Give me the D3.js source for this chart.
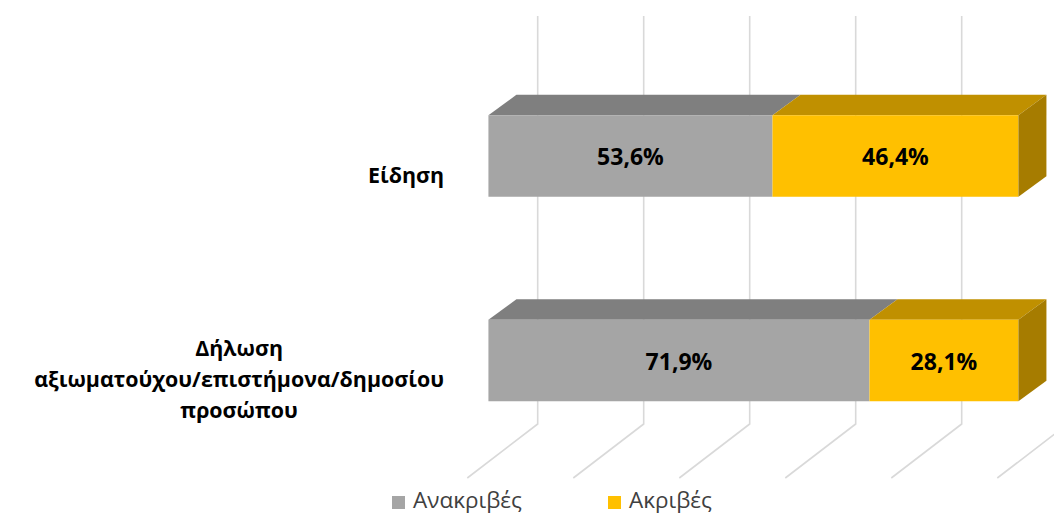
<!DOCTYPE html>
<html>
<head>
<meta charset="utf-8">
<script src="https://cdn.jsdelivr.net/npm/d3@7"></script>
<style>
  html, body { margin: 0; padding: 0; background: #fff; }
  svg { display: block; }
  text { font-family: "Open Sans", "Noto Sans", sans-serif; }
</style>
</head>
<body>
<svg id="chart" width="1054" height="513"></svg>
<script>
// Categories (top to bottom) and stacked shares
const categories = ["Είδηση", "Δήλωση αξιωματούχου/επιστήμονα/δημοσίου προσώπου"];
const categoryLines = [["Είδηση"], ["Δήλωση", "αξιωματούχου/επιστήμονα/δημοσίου", "προσώπου"]];
const seriesNames = ["Ανακριβές", "Ακριβές"];
const inaccurate = [53.6, 71.9];
const accurate = [46.4, 28.1];
const tickValues = [0, 20, 40, 60, 80, 100];

const colors = {
  front: ["#a5a5a5", "#ffc000"],
  top:   ["#7f7f7f", "#c09000"],
  side:  ["#7a7a7a", "#a67c00"]
};

const svg = d3.select("#chart");

// Oblique projection: value axis along x, depth pushes up-right
const depthX = 28, depthY = -20.5;          // bar depth
const wallX = 70.4, wallY = -54;            // full floor depth (front floor -> back wall)
const barFront = 0.3;                       // bar front sits 30% into the floor depth

const xFloorFront = d3.scaleLinear().domain([0, 100]).range([467.3, 997.3]);
const xAt = (v, depthFrac) => xFloorFront(v) + wallX * depthFrac;
const xBarFront = v => xAt(v, barFront);

const yCenter = d3.scalePoint().domain(categories).range([156, 360.5]);
const barH = 81.5;

const wallTop = 16, floorBack = 424, floorFront = 478;

// Gridlines: up the back wall, then across the floor toward the viewer
const grid = svg.append("g").attr("fill", "none").attr("stroke", "#d9d9d9").attr("stroke-width", 1.6);
tickValues.forEach(t => {
  const xb = xAt(t, 1), xf = xFloorFront(t);
  grid.append("path")
    .attr("d", `M${xb},${wallTop} L${xb},${floorBack} L${xf},${floorFront}`);
});

// Stacked 3D bars
const stackData = categories.map((c, i) => ({ cat: c, values: [inaccurate[i], accurate[i]] }));
const bars = svg.append("g");
stackData.forEach(d => {
  const yc = yCenter(d.cat);
  const yT = yc - barH / 2, yB = yc + barH / 2;
  let acc = 0;
  d.values.forEach((v, si) => {
    const x0 = xBarFront(acc), x1 = xBarFront(acc + v);
    // top face
    bars.append("path")
      .attr("d", `M${x0},${yT} L${x1},${yT} L${x1 + depthX},${yT + depthY} L${x0 + depthX},${yT + depthY} Z`)
      .attr("fill", colors.top[si]);
    // front face
    bars.append("rect")
      .attr("x", x0).attr("y", yT).attr("width", x1 - x0).attr("height", barH)
      .attr("fill", colors.front[si]);
    acc += v;
  });
  // right side face of the last segment
  const xr = xBarFront(acc);
  bars.append("path")
    .attr("d", `M${xr},${yT} L${xr + depthX},${yT + depthY} L${xr + depthX},${yB + depthY} L${xr},${yB} Z`)
    .attr("fill", colors.side[d.values.length - 1]);

  // value labels
  acc = 0;
  d.values.forEach(v => {
    const xm = xBarFront(acc + v / 2);
    bars.append("text")
      .attr("x", xm).attr("y", yc)
      .attr("text-anchor", "middle").attr("dominant-baseline", "central")
      .attr("font-size", 23).attr("font-weight", 700).attr("fill", "#000")
      .text(v.toFixed(1).replace(".", ",") + "%");
    acc += v;
  });
});

// Category labels: lines centred within a block whose right edge meets the axis
const labelRight = 444, lineH = 31;
categories.forEach((c, i) => {
  const lines = categoryLines[i];
  const g = svg.append("g");
  const ts = lines.map(l => g.append("text")
    .attr("font-size", 21.4).attr("font-weight", 700).attr("fill", "#000")
    .attr("text-anchor", "middle").attr("dominant-baseline", "central").text(l));
  const w = d3.max(ts, t => t.node().getComputedTextLength());
  const cx = labelRight - w / 2;
  const cy = yCenter(c) + 18;
  ts.forEach((t, k) => t.attr("x", cx).attr("y", cy + (k - (lines.length - 1) / 2) * lineH));
});

// Legend
const legendX = [392, 608];
seriesNames.forEach((n, i) => {
  svg.append("rect").attr("x", legendX[i]).attr("y", 496).attr("width", 13).attr("height", 13)
    .attr("fill", colors.front[i]);
  svg.append("text").attr("x", legendX[i] + 21).attr("y", 507.5)
    .attr("font-size", 22.5).attr("fill", "#404040").text(n);
});
</script>
</body>
</html>
